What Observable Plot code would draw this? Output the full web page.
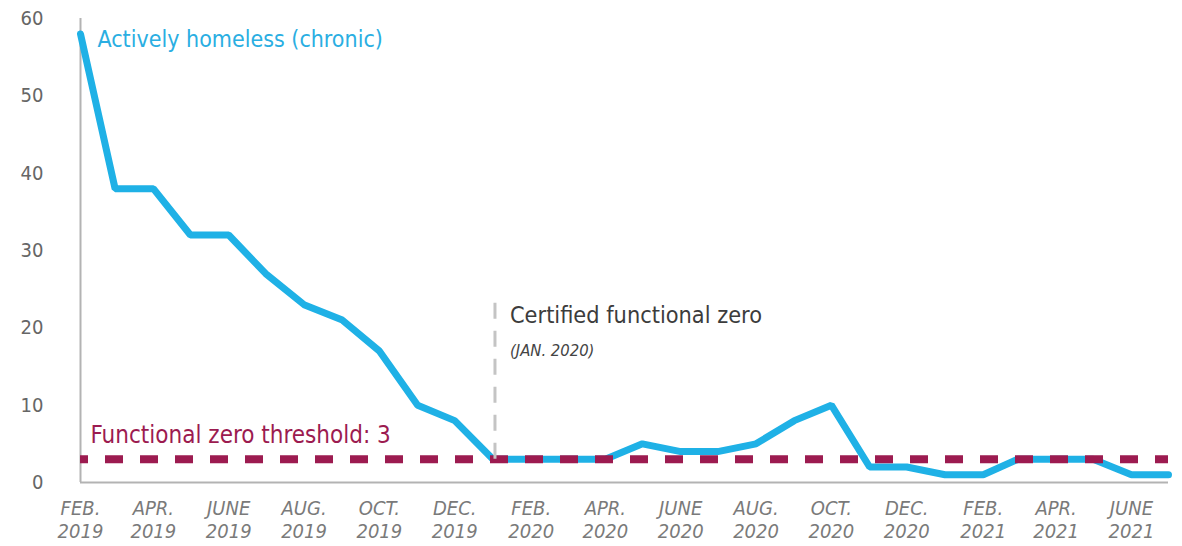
<!DOCTYPE html>
<html><head><meta charset="utf-8">
<script src="https://cdn.jsdelivr.net/npm/d3@7"></script>
<script src="https://cdn.jsdelivr.net/npm/@observablehq/plot@0.6"></script>
<style>
body{margin:0;background:#fff;}
#chart svg{font-family:"Liberation Sans Narrow","DejaVu Sans Condensed",sans-serif;}
</style>
</head><body><div id="chart"></div>
<script>
const months = ["2019-02","2019-03","2019-04","2019-05","2019-06","2019-07","2019-08","2019-09","2019-10","2019-11","2019-12",
  "2020-01","2020-02","2020-03","2020-04","2020-05","2020-06","2020-07","2020-08","2020-09","2020-10","2020-11","2020-12",
  "2021-01","2021-02","2021-03","2021-04","2021-05","2021-06","2021-07"];
const homeless = [58,38,38,32,32,27,23,21,17,10,8,
  3,3,3,3,5,4,4,5,8,10,2,2,
  1,1,3,3,3,1,1];
const tickMonths = ["2019-02","2019-04","2019-06","2019-08","2019-10","2019-12","2020-02","2020-04","2020-06","2020-08","2020-10","2020-12","2021-02","2021-04","2021-06"];
const tickLabels = ["FEB.\n2019","APR.\n2019","JUNE\n2019","AUG.\n2019","OCT.\n2019","DEC.\n2019","FEB.\n2020","APR.\n2020","JUNE\n2020","AUG.\n2020","OCT.\n2020","DEC.\n2020","FEB.\n2021","APR.\n2021","JUNE\n2021"];
const yTicks = [0,10,20,30,40,50,60];
const threshold = 3;
const certifiedMonth = "2020-01";
const certifiedRange = [3, 23.5];
const seriesLabel = "Actively homeless (chronic)";
const thresholdLabel = "Functional zero threshold: 3";
const certifiedLabel = "Certified functional zero";
const certifiedSub = "(JAN. 2020)";

const parse = s => new Date(s + "-01T00:00:00Z");
const data = months.map((m, i) => ({date: parse(m), value: homeless[i]}));
const tickDates = tickMonths.map(parse);
const labelMap = new Map(tickMonths.map((m, i) => [+parse(m), tickLabels[i]]));
const d0 = parse(months[0]), d1 = parse(months[months.length - 1]);

const chart = Plot.plot({
  width: 1182, height: 546,
  marginLeft: 80, marginRight: 14, marginTop: 18, marginBottom: 64,
  x: {type: "utc", domain: [d0, d1]},
  y: {domain: [0, 60]},
  marks: [
    Plot.ruleX([d0], {y1: 0, y2: 60, stroke: "#b3b3b3", strokeWidth: 2}),
    Plot.ruleY([0], {stroke: "#b3b3b3", strokeWidth: 2}),
    Plot.axisY(yTicks, {tickSize: 0, tickPadding: 37, fontSize: 20, fill: "#666", label: null}),
    Plot.axisX(tickDates, {tickSize: 0, tickPadding: 16, fontSize: 20, fontStyle: "italic", fill: "#7a7a7a", label: null,
      tickFormat: d => labelMap.get(+d), lineHeight: 1.15}),
    Plot.lineY(data, {x: "date", y: "value", stroke: "#1fb1e6", strokeWidth: 7, strokeLinejoin: "miter"}),
    Plot.ruleY([threshold], {stroke: "#9c1b50", strokeWidth: 8, strokeDasharray: "18,17", strokeDashoffset: 10}),
    Plot.ruleX([parse(certifiedMonth)], {y1: certifiedRange[0], y2: certifiedRange[1], dx: 2, stroke: "#c4c4c4", strokeWidth: 3, strokeDasharray: "16,12"}),
    Plot.text([seriesLabel], {x: d0, y: 57.3, dx: 17, text: d => d, textAnchor: "start", fill: "#2aaee2", fontSize: 23}),
    Plot.text([thresholdLabel], {x: d0, y: 6.1, dx: 10, text: d => d, textAnchor: "start", fill: "#9c1b50", fontSize: 24}),
    Plot.text([certifiedLabel], {x: parse(certifiedMonth), y: 21.6, dx: 17, text: d => d, textAnchor: "start", fill: "#3c3c3c", fontSize: 23.3}),
    Plot.text([certifiedSub], {x: parse(certifiedMonth), y: 17.1, dx: 17, text: d => d, textAnchor: "start", fill: "#444", fontSize: 16.5, fontStyle: "italic"})
  ]
});
document.getElementById("chart").appendChild(chart);
</script>
</body></html>
